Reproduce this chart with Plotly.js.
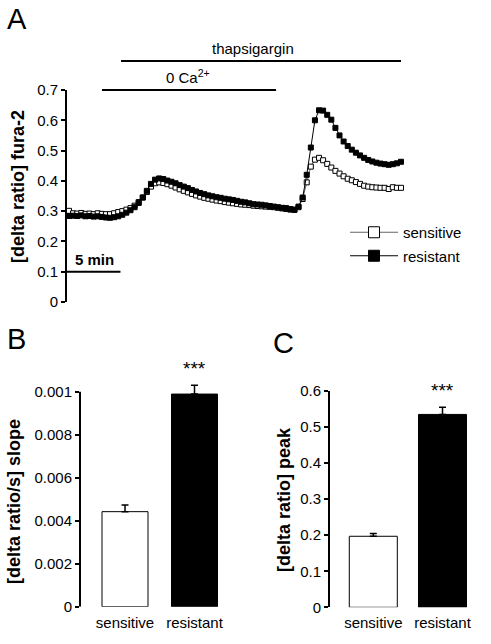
<!DOCTYPE html>
<html>
<head>
<meta charset="utf-8">
<script src="https://cdn.plot.ly/plotly-3.0.1.min.js"></script>
<style>
  html, body { margin: 0; padding: 0; background: #fff; }
  #fig { width: 491px; height: 644px; }
</style>
</head>
<body>
<div id="fig"></div>
<script>
// ---- Panel A: fura-2 ratio traces (one sample every 23 s) ----
const SAMPLE_INTERVAL_S = 23;

const sensitiveRatio = [
  0.301, 0.293, 0.292, 0.294, 0.291, 0.292, 0.290, 0.293, 0.291, 0.290,
  0.290, 0.293, 0.297, 0.300, 0.305, 0.310, 0.318, 0.330, 0.345, 0.363,
  0.381, 0.392, 0.395, 0.393, 0.389, 0.384, 0.378, 0.372, 0.367, 0.362,
  0.357, 0.352, 0.348, 0.344, 0.341, 0.338, 0.335, 0.333, 0.330, 0.328,
  0.326, 0.324, 0.322, 0.321, 0.320, 0.318, 0.317, 0.316, 0.315, 0.314,
  0.313, 0.311, 0.309, 0.307, 0.305, 0.304, 0.313, 0.340, 0.395, 0.447,
  0.470, 0.476, 0.468, 0.456, 0.444, 0.433, 0.424, 0.415, 0.407, 0.402,
  0.396, 0.390, 0.384, 0.381, 0.379, 0.378, 0.377, 0.377, 0.373, 0.379,
  0.377, 0.377
];

const resistantRatio = [
  0.284, 0.285, 0.284, 0.286, 0.283, 0.284, 0.282, 0.283, 0.281, 0.279,
  0.278, 0.280, 0.283, 0.288, 0.295, 0.303, 0.313, 0.327, 0.345, 0.367,
  0.390, 0.404, 0.408, 0.406, 0.401, 0.397, 0.392, 0.386, 0.381, 0.376,
  0.370, 0.365, 0.360, 0.356, 0.352, 0.349, 0.346, 0.344, 0.341, 0.339,
  0.337, 0.334, 0.331, 0.329, 0.326, 0.323, 0.322, 0.321, 0.319, 0.317,
  0.315, 0.313, 0.311, 0.310, 0.307, 0.305, 0.315, 0.345, 0.420, 0.510,
  0.600, 0.633, 0.632, 0.618, 0.602, 0.575, 0.550, 0.530, 0.515, 0.503,
  0.493, 0.484, 0.476, 0.469, 0.464, 0.460, 0.457, 0.455, 0.453, 0.455,
  0.458, 0.463
];

const ratioTickVals = [0, 0.1, 0.2, 0.3, 0.4, 0.5, 0.6, 0.7];

// treatment windows, seconds
const thapsigarginWindow = [292, 1863];
const zeroCaWindow = [185, 1162];
const scaleBarSeconds = 300;

// ---- Panels B and C: group summaries (mean, SEM) ----
const groups = ['sensitive', 'resistant'];
const slopeMean = [0.00442, 0.00989];
const slopeSem = [0.00031, 0.00041];
const slopeTickVals = [0, 0.002, 0.004, 0.006, 0.008, 0.01];
const slopeTickText = ['0', '0.002', '0.004', '0.006', '0.008', '0.001'];
const peakMean = [0.197, 0.535];
const peakSem = [0.008, 0.020];
const peakTickVals = [0, 0.1, 0.2, 0.3, 0.4, 0.5, 0.6];
const barFill = ['#ffffff', '#000000'];

// ---- page geometry helpers ----
const W = 491, H = 644;
const px = v => v / W;          // horizontal pixel -> paper
const py = v => 1 - v / H;      // vertical pixel -> paper
const FONT = 'Liberation Sans, Arial, Helvetica, sans-serif';

const time = sensitiveRatio.map((_, i) => i * SAMPLE_INTERVAL_S);
const tEnd = time[time.length - 1];

// panel A horizontal mapping: first sample at x=69px, last at x=401px
const aLeft = 67, aRight = 405, aFirst = 69, aLast = 401;
const sPerPx = tEnd / (aLast - aFirst);
const aRange = [(aLeft - aFirst) * sPerPx, tEnd + (aRight - aLast) * sPerPx];

// bar panels: category centers and axis positions
function catRange(axisPx, c0, c1, rightPx) {
  const step = c1 - c0;
  return [(axisPx - c0) / step, (rightPx - c0) / step];
}

// panel B: the value axis line stops at 0.01 while the error bar and stars sit above it
const slopeTop = 0.0108;
const bZeroPx = 606.7, bPxPerUnit = (606.7 - 391.7) / 0.01;

const sensitiveMarker = { symbol: 'square', color: '#ffffff', line: { color: '#000000', width: 1 } };
const resistantMarker = { symbol: 'square', color: '#000000', line: { color: '#000000', width: 1 } };

const traces = [
  {
    x: time, y: sensitiveRatio, name: 'sensitive', type: 'scatter', mode: 'lines+markers',
    xaxis: 'x', yaxis: 'y', showlegend: false,
    line: { color: '#666666', width: 1 },
    marker: Object.assign({ size: 5 }, sensitiveMarker)
  },
  {
    x: time, y: resistantRatio, name: 'resistant', type: 'scatter', mode: 'lines+markers',
    xaxis: 'x', yaxis: 'y', showlegend: false,
    line: { color: '#000000', width: 1 },
    marker: Object.assign({ size: 5 }, resistantMarker)
  },
  // legend keys (larger symbols than the plotted points)
  {
    x: [null], y: [null], name: 'sensitive', type: 'scatter', mode: 'lines+markers',
    xaxis: 'x', yaxis: 'y', legendgroup: 'g1', showlegend: true,
    line: { color: '#666666', width: 1 },
    marker: Object.assign({ size: 11 }, sensitiveMarker)
  },
  {
    x: [null], y: [null], name: 'resistant', type: 'scatter', mode: 'lines+markers',
    xaxis: 'x', yaxis: 'y', legendgroup: 'g2', showlegend: true,
    line: { color: '#000000', width: 1 },
    marker: Object.assign({ size: 11 }, resistantMarker)
  },
  {
    x: groups, y: slopeMean, type: 'bar', xaxis: 'x2', yaxis: 'y2', showlegend: false,
    width: 0.662,
    marker: { color: barFill, line: { color: '#000', width: 1 } },
    error_y: { type: 'data', array: slopeSem, arrayminus: [0, 0], symmetric: false,
               color: '#000', thickness: 1.5, width: 3.5 }
  },
  {
    x: groups, y: peakMean, type: 'bar', xaxis: 'x3', yaxis: 'y3', showlegend: false,
    width: 0.694,
    marker: { color: barFill, line: { color: '#000', width: 1 } },
    error_y: { type: 'data', array: peakSem, arrayminus: [0, 0], symmetric: false,
               color: '#000', thickness: 1.5, width: 3.5 }
  }
];

const tickFont = { family: FONT, size: 15, color: '#000' };
const yAxisCommon = {
  showline: true, linecolor: '#000', linewidth: 2,
  ticks: 'outside', ticklen: 4, tickwidth: 2, tickcolor: '#000',
  showgrid: false, zeroline: false, fixedrange: true,
  tickfont: tickFont
};
const xCatCommon = {
  type: 'category', showline: false, ticks: '', showgrid: false, zeroline: false,
  fixedrange: true, tickfont: tickFont, ticklabelstandoff: 5
};

const starFont = { family: FONT, size: 19, color: '#000' };
const titleFont = { family: FONT, size: 18, color: '#000' };

const layout = {
  width: W, height: H,
  margin: { l: 0, r: 0, t: 0, b: 0 },
  paper_bgcolor: '#fff', plot_bgcolor: 'rgba(0,0,0,0)',
  font: { family: FONT, color: '#000' },
  showlegend: true,
  legend: {
    x: px(345), y: py(216), xanchor: 'left', yanchor: 'top',
    bgcolor: 'rgba(0,0,0,0)', font: { family: FONT, size: 15, color: '#000' },
    traceorder: 'grouped', tracegroupgap: 1, itemwidth: 48
  },
  xaxis: { domain: [px(aLeft), px(aRight)], range: aRange, visible: false, fixedrange: true },
  yaxis: Object.assign({}, yAxisCommon, {
    domain: [py(302), py(90)], range: [0, 0.7],
    tickvals: ratioTickVals, ticktext: ratioTickVals.map(String)
  }),
  xaxis2: Object.assign({}, xCatCommon, {
    anchor: 'y2', domain: [px(80), px(232)], range: catRange(80, 125, 194.5, 232)
  }),
  yaxis2: Object.assign({}, yAxisCommon, {
    anchor: 'x2', showline: false,
    domain: [py(bZeroPx), py(bZeroPx - slopeTop * bPxPerUnit)], range: [0, slopeTop],
    tickvals: slopeTickVals, ticktext: slopeTickText
  }),
  xaxis3: Object.assign({}, xCatCommon, {
    anchor: 'y3', domain: [px(330), px(482)], range: catRange(330, 373.3, 442.5, 482)
  }),
  yaxis3: Object.assign({}, yAxisCommon, {
    anchor: 'x3', domain: [py(607.3), py(391)], range: [0, 0.6],
    tickvals: peakTickVals, ticktext: peakTickVals.map(String)
  }),
  shapes: [
    { type: 'line', xref: 'x', yref: 'paper', x0: thapsigarginWindow[0], x1: thapsigarginWindow[1],
      y0: py(61), y1: py(61), line: { color: '#000', width: 2 } },
    { type: 'line', xref: 'x', yref: 'paper', x0: zeroCaWindow[0], x1: zeroCaWindow[1],
      y0: py(90), y1: py(90), line: { color: '#000', width: 2 } },
    { type: 'line', xref: 'x', yref: 'y', x0: aRange[0], x1: aRange[0] + scaleBarSeconds,
      y0: 0.1, y1: 0.1, line: { color: '#000', width: 2 } },
    // panel B value axis line, 0 to 0.01
    { type: 'line', xref: 'x2 domain', yref: 'y2', x0: 0, x1: 0,
      y0: slopeTickVals[0], y1: slopeTickVals[slopeTickVals.length - 1], line: { color: '#000', width: 2 } }
  ],
  annotations: [
    { text: 'A', xref: 'paper', yref: 'paper', x: px(5), y: py(19), xanchor: 'left', yanchor: 'middle',
      showarrow: false, font: { family: FONT, size: 29 } },
    { text: 'B', xref: 'paper', yref: 'paper', x: px(5), y: py(339), xanchor: 'left', yanchor: 'middle',
      showarrow: false, font: { family: FONT, size: 29 } },
    { text: 'C', xref: 'paper', yref: 'paper', x: px(271), y: py(343), xanchor: 'left', yanchor: 'middle',
      showarrow: false, font: { family: FONT, size: 29 } },
    { text: 'thapsigargin', xref: 'paper', yref: 'paper', x: px(253), y: py(48), xanchor: 'center', yanchor: 'middle',
      showarrow: false, font: { family: FONT, size: 15 } },
    { text: '0 Ca<sup>2+</sup>', xref: 'paper', yref: 'paper', x: px(188), y: py(77), xanchor: 'center', yanchor: 'middle',
      showarrow: false, font: { family: FONT, size: 15 } },
    { text: '<b>5 min</b>', xref: 'paper', yref: 'paper', x: px(94.5), y: py(259), xanchor: 'center', yanchor: 'middle',
      showarrow: false, font: { family: FONT, size: 15 } },
    { text: '<b>[delta ratio] fura-2</b>', xref: 'paper', yref: 'paper', x: px(18), y: py(187),
      xanchor: 'center', yanchor: 'middle', textangle: -90, showarrow: false, font: titleFont },
    { text: '<b>[delta ratio/s] slope</b>', xref: 'paper', yref: 'paper', x: px(14), y: py(502),
      xanchor: 'center', yanchor: 'middle', textangle: -90, showarrow: false, font: titleFont },
    { text: '<b>[delta ratio] peak</b>', xref: 'paper', yref: 'paper', x: px(284), y: py(500),
      xanchor: 'center', yanchor: 'middle', textangle: -90, showarrow: false, font: titleFont },
    { text: '***', xref: 'x2', yref: 'y2', x: groups[1], y: slopeMean[1] + slopeSem[1],
      xanchor: 'center', yanchor: 'bottom', yshift: 4, showarrow: false, font: starFont },
    { text: '***', xref: 'x3', yref: 'y3', x: groups[1], y: peakMean[1] + peakSem[1],
      xanchor: 'center', yanchor: 'bottom', yshift: 4, showarrow: false, font: starFont }
  ]
};

Plotly.newPlot('fig', traces, layout, { staticPlot: true, displayModeBar: false });
</script>
</body>
</html>
